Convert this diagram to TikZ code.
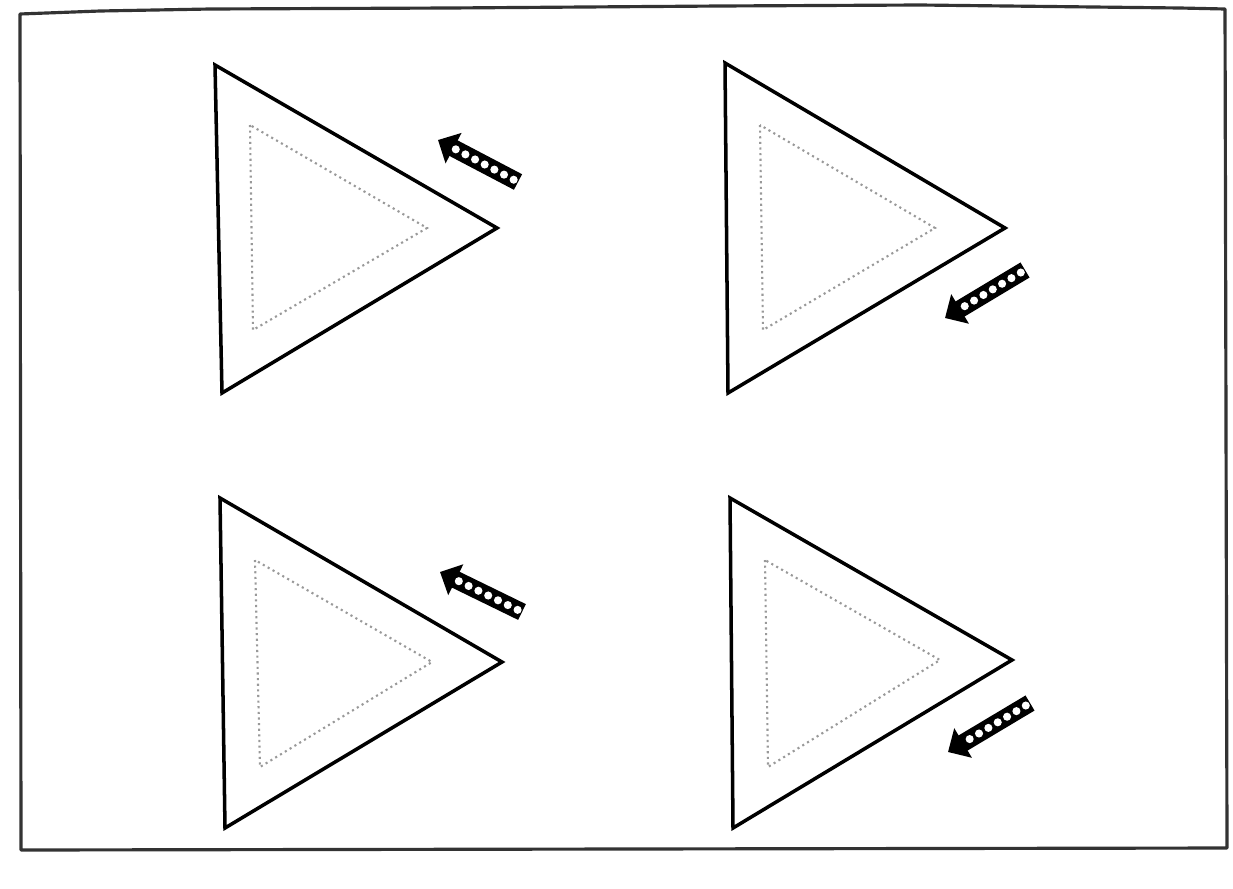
\documentclass[tikz,border=0pt]{standalone}
\usetikzlibrary{arrows.meta}
\tikzset{
  frameline/.style={line width=0.9pt, draw=black!80, line join=round},
  outertri/.style={line width=1pt, draw=black, line join=miter},
  innertri/.style={line width=0.6pt, draw=black!40, densely dotted},
  fatarrow/.style={line width=5pt, draw=black, -{Triangle[width=9.5pt,length=5pt]}},
  arrowdots/.style={line width=2.3pt, draw=white, line cap=round, dash pattern=on 0pt off 3.1pt, shorten >=5pt, shorten <=1.4pt},
}
\begin{document}
\begin{tikzpicture}
\useasboundingbox (0,0) rectangle (12.33,8.88);
% frame
\draw[frameline] (0.20,8.74) -- (1.00,8.77) -- (2.10,8.79) -- (4.50,8.80) -- (7.20,8.82) -- (9.20,8.83) -- (11.80,8.80) -- (12.25,8.79) -- (12.27,0.40) -- (0.21,0.38) -- cycle;
% top left
\draw[outertri] (2.15,8.23) -- (2.22,4.95) -- (4.97,6.60) -- cycle;
\draw[innertri] (2.50,7.63) -- (2.53,5.58) -- (4.27,6.60) -- cycle;
\coordinate (a1tail) at (5.18,7.06);
\coordinate (a1head) at (4.38,7.48);
\draw[fatarrow] (a1tail) -- (a1head);
\draw[arrowdots] (a1tail) -- (a1head);
% top right
\draw[outertri] (7.25,8.25) -- (7.28,4.95) -- (10.05,6.60) -- cycle;
\draw[innertri] (7.60,7.63) -- (7.63,5.58) -- (9.35,6.60) -- cycle;
\coordinate (a2tail) at (10.25,6.18);
\coordinate (a2head) at (9.45,5.70);
\draw[fatarrow] (a2tail) -- (a2head);
\draw[arrowdots] (a2tail) -- (a2head);
% bottom left
\draw[outertri] (2.20,3.90) -- (2.25,0.60) -- (5.02,2.26) -- cycle;
\draw[innertri] (2.55,3.28) -- (2.60,1.21) -- (4.32,2.26) -- cycle;
\coordinate (a3tail) at (5.22,2.76);
\coordinate (a3head) at (4.40,3.16);
\draw[fatarrow] (a3tail) -- (a3head);
\draw[arrowdots] (a3tail) -- (a3head);
% bottom right
\draw[outertri] (7.30,3.90) -- (7.33,0.60) -- (10.12,2.28) -- cycle;
\draw[innertri] (7.65,3.28) -- (7.68,1.21) -- (9.40,2.28) -- cycle;
\coordinate (a4tail) at (10.30,1.85);
\coordinate (a4head) at (9.48,1.36);
\draw[fatarrow] (a4tail) -- (a4head);
\draw[arrowdots] (a4tail) -- (a4head);
\end{tikzpicture}
\end{document}
